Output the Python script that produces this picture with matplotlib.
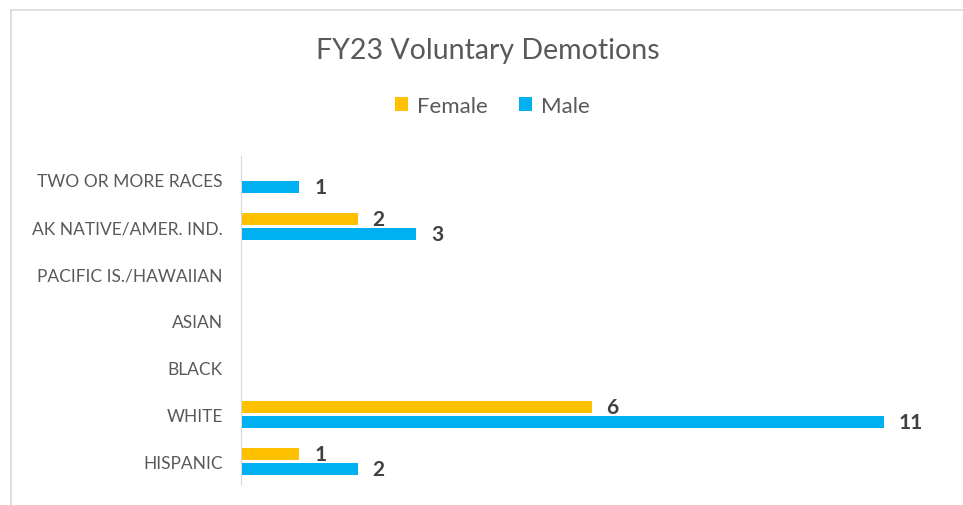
import numpy as np
import matplotlib.pyplot as plt

# data (bottom to top)
categories = ["HISPANIC", "WHITE", "BLACK", "ASIAN", "PACIFIC IS./HAWAIIAN",
              "AK NATIVE/AMER. IND.", "TWO OR MORE RACES"]
female = [1, 6, 0, 0, 0, 2, 0]
male = [2, 11, 0, 0, 0, 3, 1]

plt.rcParams['font.family'] = ['Lato', 'DejaVu Sans']

fig = plt.figure(figsize=(9.63, 5.06), dpi=100)
ax = fig.add_axes([0.2503, 0.0395, 0.7284, 0.6502])

y = np.arange(len(categories))
h = 0.26
off = 0.165
bf = ax.barh(y + off, female, height=h, color="#FFC000", label="Female")
bm = ax.barh(y - off, male, height=h, color="#00B0F0", label="Male")

for bars, vals in [(bf, female), (bm, male)]:
    for b, v in zip(bars, vals):
        if v > 0:
            ax.text(b.get_width() + 0.25, b.get_y() + b.get_height() / 2, str(v),
                    va="center", ha="left", fontsize=15, fontweight="bold", color="#404040")

ax.set_xlim(0, 12)
ax.set_ylim(-0.5, len(categories) - 0.5)
ax.set_yticks(y)
ax.set_yticklabels(categories, fontsize=12.5, color="#595959")
ax.tick_params(axis="y", length=0, pad=13)
ax.set_xticks([])
for s in ["top", "right", "bottom"]:
    ax.spines[s].set_visible(False)
ax.spines["left"].set_color("#D9D9D9")

fig.text(0.507, 0.90, "FY23 Voluntary Demotions", ha="center", va="center",
         fontsize=20.5, color="#595959")
fig.legend(handles=[bf, bm], loc="center", bbox_to_anchor=(0.511, 0.788), ncol=2,
           frameon=False, fontsize=16, handlelength=0.6, handleheight=0.6,
           handletextpad=0.4, columnspacing=1.4, labelcolor="#595959")

# chart border (top and left visible)
fig.add_artist(plt.Line2D([0.0114, 1.0], [0.978, 0.978], transform=fig.transFigure,
                          color="#D9D9D9", lw=1.2))
fig.add_artist(plt.Line2D([0.0114, 0.0114], [0.0, 0.978], transform=fig.transFigure,
                          color="#D9D9D9", lw=1.2))

fig.savefig("out.png", dpi=100)
